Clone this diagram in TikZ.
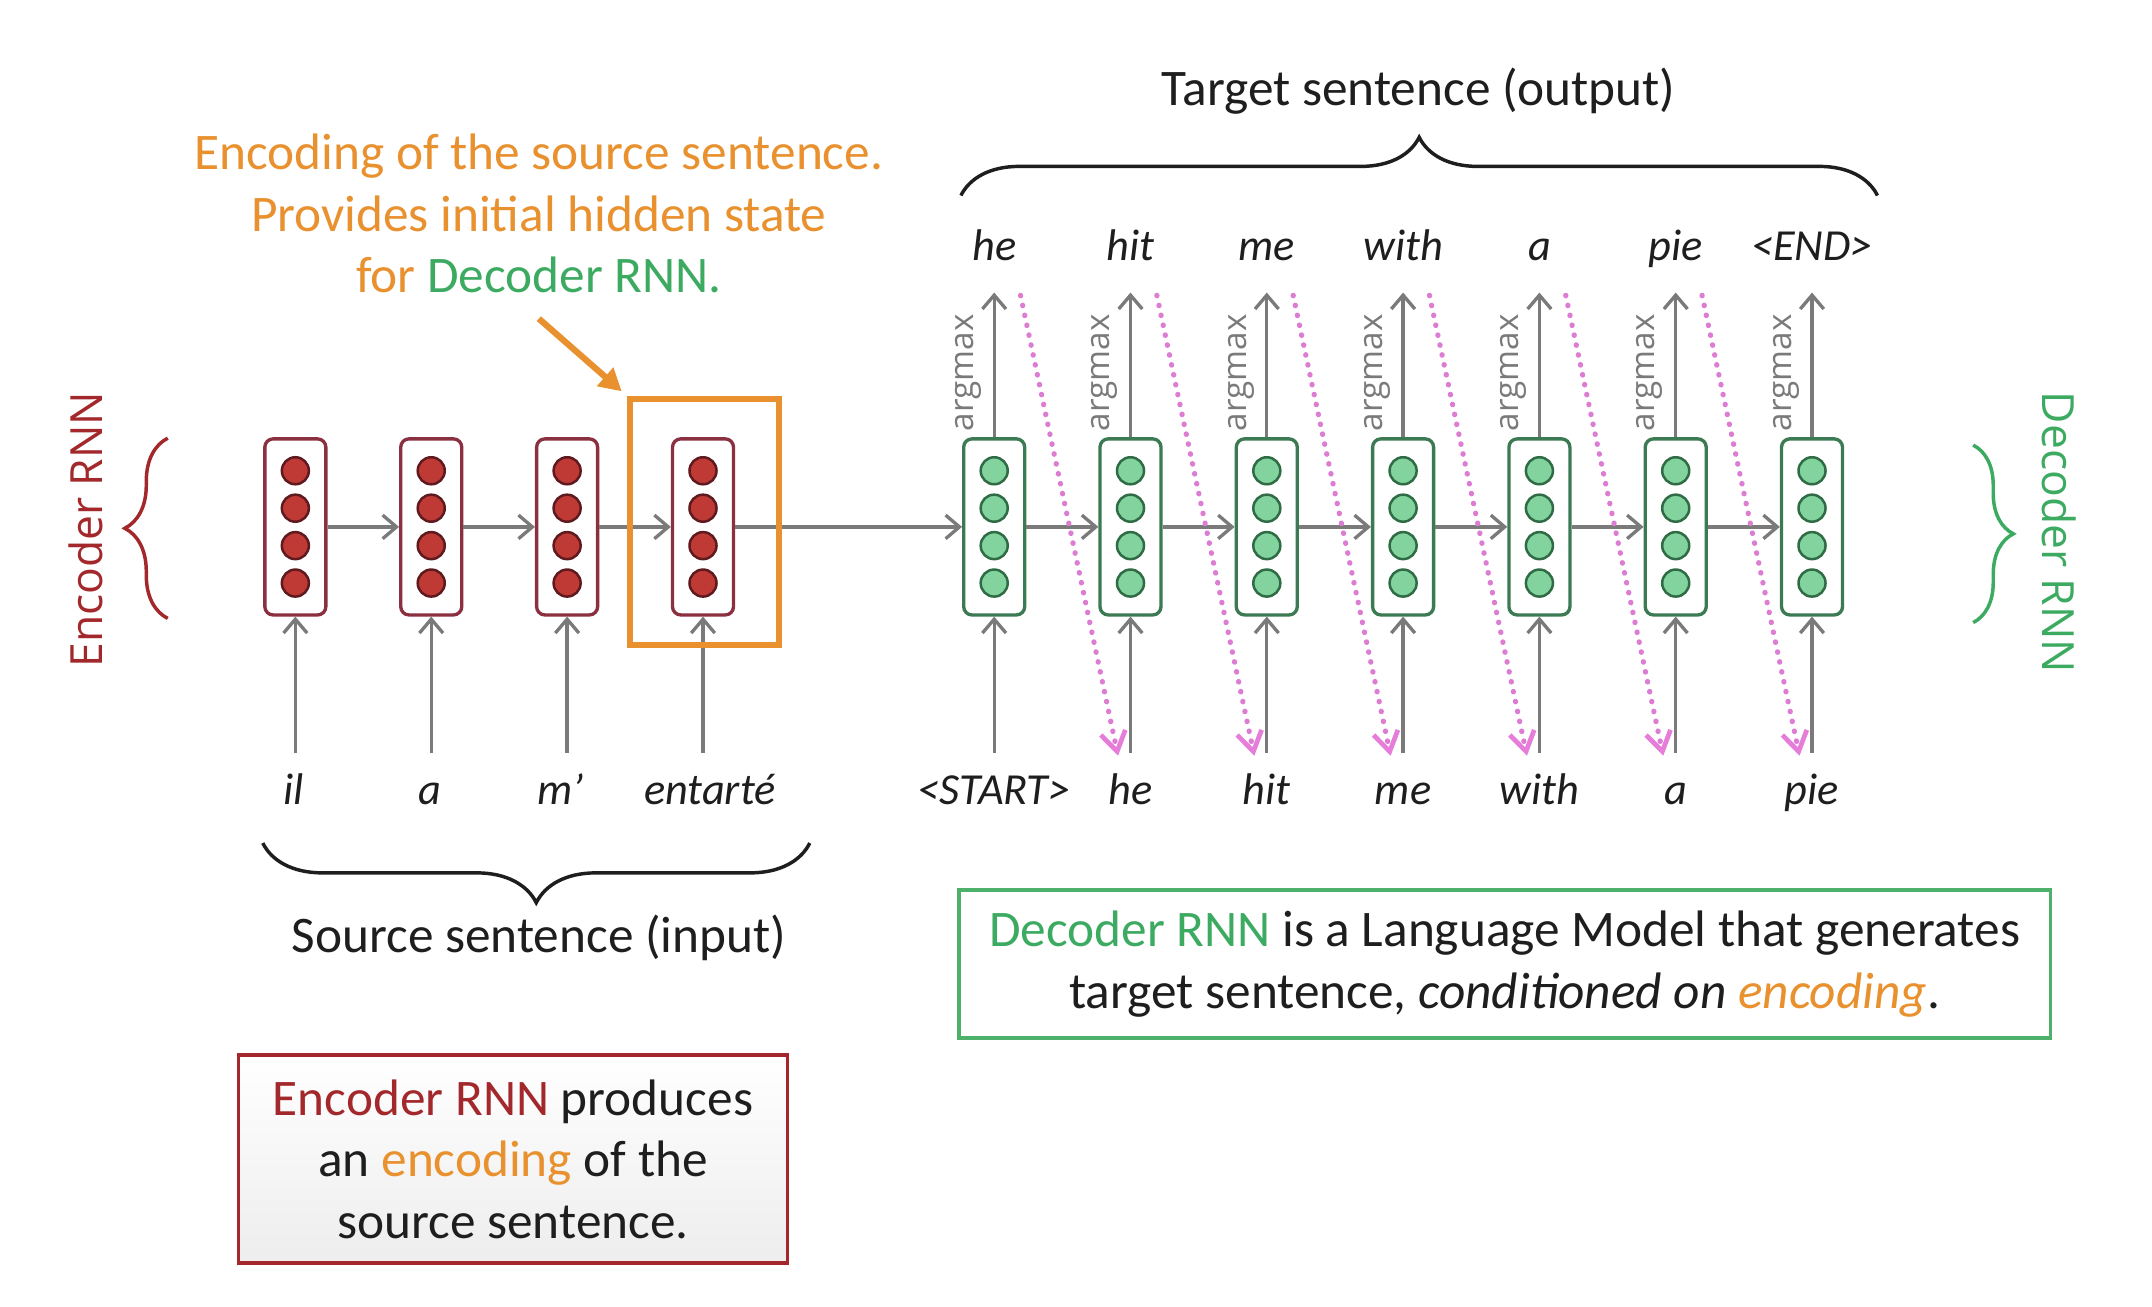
\documentclass[tikz,border=0pt]{standalone}
\usepackage{fontspec}
\setmainfont{Carlito}
\newfontfamily\osans{Open Sans}
\usetikzlibrary{arrows.meta,decorations.pathreplacing,calc}
\definecolor{encred}{HTML}{8A3040}
\definecolor{encfill}{HTML}{BF3A35}
\definecolor{encdot}{HTML}{5E1A1E}
\definecolor{labred}{HTML}{A3282C}
\definecolor{encbox}{HTML}{A6262E}
\definecolor{orng}{HTML}{E8912E}
\definecolor{grn}{HTML}{3DAA62}
\definecolor{decbox}{HTML}{4DB06B}
\definecolor{decline}{HTML}{3B7A52}
\definecolor{decfill}{HTML}{82D39D}
\definecolor{decdot}{HTML}{2F6B45}
\definecolor{arrgray}{HTML}{7A7A7A}
\definecolor{pnk}{HTML}{DC7CD2}
\definecolor{pnkhead}{HTML}{E67ED9}
\definecolor{ink}{HTML}{1E1E1E}
\begin{document}
\begin{tikzpicture}[x=1pt,y=-1pt,
  cellbase/.style={rectangle, rounded corners=6pt, minimum width=44pt, minimum height=127pt, line width=2.4pt, fill=white, inner sep=0pt},
  enccell/.style={cellbase, draw=encred},
  deccell/.style={cellbase, draw=decline},
  encunit/.style={circle, minimum size=19.5pt, inner sep=0pt, draw=encdot, line width=1.8pt, fill=encfill},
  decunit/.style={circle, minimum size=19.5pt, inner sep=0pt, draw=decdot, line width=1.8pt, fill=decfill},
  flow/.style={draw=arrgray, line width=2.4pt, -{Straight Barb[length=10pt,width=17pt,line width=2.4pt]}},
  feed/.style={draw=pnk, line width=3.8pt, line cap=round, dash pattern=on 0.3pt off 7pt, -{Straight Barb[length=14pt,width=18pt,line width=3.4pt,color=pnkhead]}},
  word/.style={font=\fontsize{32}{38}\selectfont\itshape, text=ink, inner sep=0pt, anchor=base},
  body/.style={font=\fontsize{37}{44.5}\selectfont, text=ink, inner sep=0pt, align=center},
  argm/.style={font=\osans\fontsize{24}{28}\selectfont, text=arrgray, rotate=90, inner sep=0pt, anchor=south},
  sidelab/.style={font=\osans\fontsize{32}{38}\selectfont, inner sep=0pt},
  bracestyle/.style={decorate, decoration={brace, amplitude=#1}, line width=2.5pt},
]
\path[use as bounding box, fill=white] (0,0) rectangle (1552,942);

% ---------- encoder cells ----------
\foreach \i/\x/\w/\wx in {1/213/il/212,2/311/a/310,3/409/m’/404,4/507/entarté/512}{
  \node[enccell] (e\i) at (\x,380) {};
  \foreach \k/\dy in {1/-40.5,2/-13.5,3/13.5,4/40.5}
    \node[encunit] (e\i u\k) at ({\x},{380+\dy}) {};
  \node[word] (we\i) at (\wx,580) {\w};
  \coordinate (ein\i) at (\x,543);
  \draw[flow] (ein\i) -- (e\i.south);
}

% ---------- decoder cells ----------
\foreach \i/\x/\wi/\wo in {1/717/<START>/he,2/815.3/he/hit,3/913.6/hit/me,4/1011.9/me/with,5/1110.2/with/a,6/1208.5/a/pie,7/1306.8/pie/<END>}{
  \node[deccell] (d\i) at (\x,380) {};
  \foreach \k/\dy in {1/-40.5,2/-13.5,3/13.5,4/40.5}
    \node[decunit] (d\i u\k) at ({\x},{380+\dy}) {};
  \node[word] (wdi\i) at (\x,580) {\wi};
  \node[word] (wdo\i) at (\x,188) {\wo};
  \coordinate (din\i) at (\x,543);
  \coordinate (dout\i) at (\x,211);
  \draw[flow] (din\i) -- (d\i.south);
  \draw[flow] (d\i.north) -- (dout\i);
  \node[argm] (am\i) at ({\x-9},269) {argmax};
}

% ---------- recurrent connections ----------
\draw[flow] (e1.east) -- (e2.west);
\draw[flow] (e2.east) -- (e3.west);
\draw[flow] (e3.east) -- (e4.west);
\draw[flow] (e4.east) -- (d1.west);
\foreach \i [evaluate=\i as \j using int(\i+1)] in {1,...,6}
  \draw[flow] (d\i.east) -- (d\j.west);

% ---------- feeding back predictions ----------
\foreach \i [evaluate=\i as \j using int(\i+1)] in {1,...,6}
  \draw[feed] ($(dout\i)+(19,2)$) -- ($(din\j)+(-9,2)$);

% ---------- encoding highlight ----------
\node[draw=orng, line width=4.5pt, minimum width=107.4pt, minimum height=177.2pt, inner sep=0pt] (obox) at (508.1,376.4) {};
\node[body, text=orng] (otext) at (388.6,154) {Encoding of the source sentence.\\Provides initial hidden state\\for \textcolor{grn}{Decoder RNN.}};
\coordinate (oarr) at (388.6,229.8);
\draw[orng, line width=4.5pt, shorten >=5pt, -{Triangle[length=16pt,width=17pt]}] (oarr) -- (obox.north west);

% ---------- braces ----------
\coordinate (tbL) at (693,141);
\coordinate (tbR) at (1354,141);
\draw[bracestyle=42, ink] (tbL) -- (tbR);
\node[body, anchor=base] (ttitle) at (1023,76) {Target sentence (output)};

\coordinate (sbL) at (189.5,608);
\coordinate (sbR) at (584,608);
\draw[bracestyle=43, ink] (sbR) -- (sbL);
\node[body, anchor=base] (stitle) at (388.6,687) {Source sentence (input)};

\coordinate (ebT) at (121,316);
\coordinate (ebB) at (121,446);
\draw[bracestyle=31, labred] (ebB) -- (ebT);
\node[sidelab, text=labred, rotate=90] (enclab) at (62,382) {Encoder RNN};

\coordinate (dbT) at (1423,321);
\coordinate (dbB) at (1423,449);
\draw[bracestyle=29, grn] (dbT) -- (dbB);
\node[sidelab, text=grn, rotate=-90] (declab) at (1485,384) {Decoder RNN};

% ---------- explanation boxes ----------
\node[body, draw=decbox, line width=2.5pt, minimum width=787.5pt, minimum height=106.6pt] (dbox) at (1085.2,695.3)
  {\textcolor{grn}{Decoder RNN} is a Language Model that generates\\target sentence, \textit{conditioned on} \textcolor{orng}{\textit{encoding}}.};
\node[body, draw=encbox, line width=2.5pt, minimum width=396pt, minimum height=150pt, top color=white, bottom color=black!7] (ebox) at (370,836)
  {\textcolor{labred}{Encoder RNN} produces\\an \textcolor{orng}{encoding} of the\\source sentence.};
\end{tikzpicture}
\end{document}
